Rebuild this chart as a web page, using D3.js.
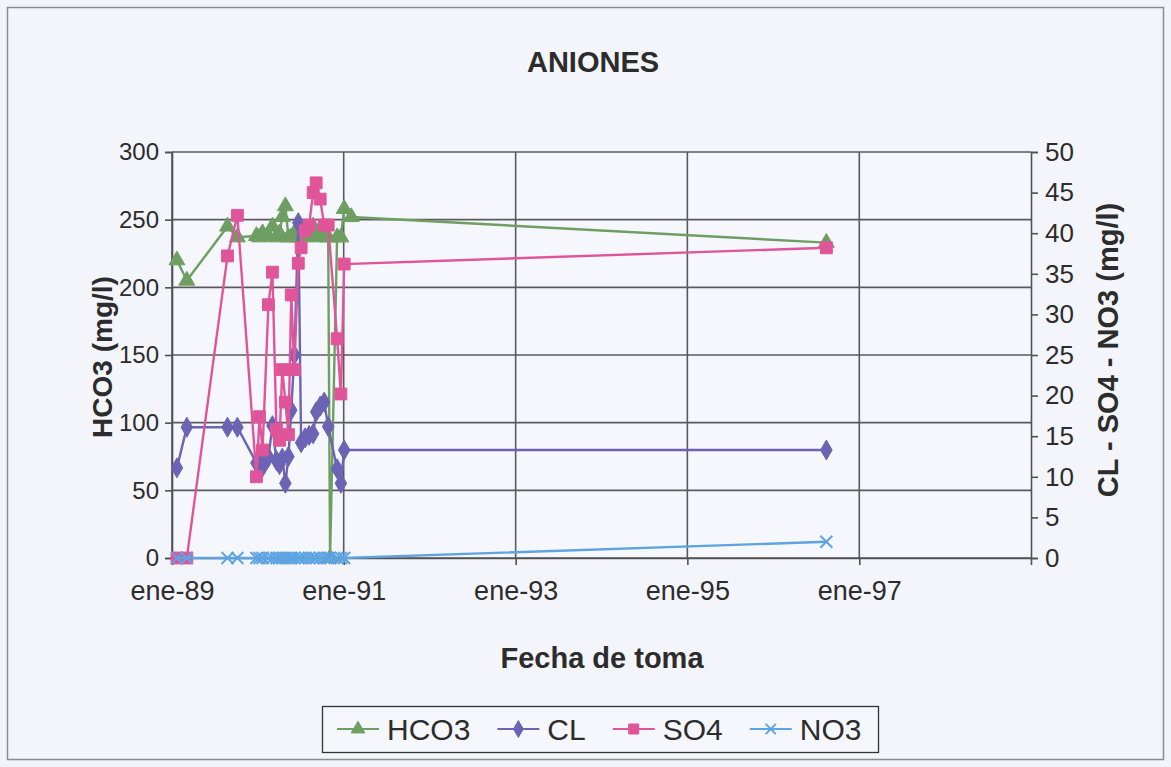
<!DOCTYPE html>
<html>
<head>
<meta charset="utf-8">
<script src="https://cdn.jsdelivr.net/npm/d3@7"></script>
<style>
  html, body { margin: 0; padding: 0; background: #f3f4f9; }
  svg { display: block; font-family: "Liberation Sans", Arial, sans-serif; }
</style>
</head>
<body>
<svg id="chart" width="1171" height="767"></svg>
<script>
// ---------- data ----------
const dates = ["1989-01-22","1989-03-05","1989-08-25","1989-10-06","1989-12-26","1990-01-08","1990-01-21",
  "1990-02-15","1990-03-04","1990-03-21","1990-04-03","1990-04-15","1990-04-28","1990-05-11","1990-05-23",
  "1990-06-05","1990-06-22","1990-07-04","1990-07-21","1990-08-07","1990-08-24","1990-09-06","1990-09-23",
  "1990-10-10","1990-10-27","1990-11-04","1990-12-04","1990-12-20","1991-01-03","1991-02-02","1996-08-14"];
const hco3 = [220,205,245,237,238,237,240,238,245,237,240,252,260,237,237,240,237,240,237,240,245,238,237,240,237,0,237,237,258,252,233];
const cl   = [11.1,16.1,16.1,16.1,11.7,12.5,11.2,12.4,16.3,12,11.5,12.3,9.2,12.5,18.2,25,41.3,14.2,14.8,15.1,15.3,18,18.7,19.2,16.2,null,11,9.2,13.3,null,13.3];
const so4  = [0,0,37.2,42.2,10,17.4,13.3,31.2,35.2,15.8,14.5,23.2,19.2,15.2,32.4,23.2,36.3,38.2,40.3,41,45,46.2,44.2,41,41,null,27,20.2,36.2,null,38.2];
const no3  = [0,0,0,0,0,0,0,0,0,0,0,0,0,0,0,0,0,0,0,0,0,0,0,0,0,0,0,0,0,null,2.0];

const xTickDates = ["1989-01-01","1991-01-01","1993-01-01","1995-01-01","1997-01-01"];
const xTickLabels = ["ene-89","ene-91","ene-93","ene-95","ene-97"];
const leftTicks = [0,50,100,150,200,250,300];
const rightTicks = [0,5,10,15,20,25,30,35,40,45,50];
const seriesNames = ["HCO3","CL","SO4","NO3"];
const seriesColors = ["#6f9e62","#6b64b4","#e0559a","#5ea4e2"];
const seriesAxis = ["left","right","right","right"];

// ---------- layout ----------
const svg = d3.select("#chart");
const W = 1171, H = 767;
const plot = {left: 172, right: 1031, top: 152, bottom: 558};
const parse = d3.timeParse("%Y-%m-%d");
const FONT = "'Liberation Sans', Arial, sans-serif";

const x = d3.scaleTime().domain([parse("1989-01-01"), parse("1999-01-01")]).range([plot.left, plot.right]);
const yL = d3.scaleLinear().domain([0,300]).range([plot.bottom, plot.top]);
const yR = d3.scaleLinear().domain([0,50]).range([plot.bottom, plot.top]);

// background and border
svg.append("rect").attr("x",0).attr("y",0).attr("width",W).attr("height",H).attr("fill","#f3f4f9");
svg.append("rect").attr("x",7.5).attr("y",7.5).attr("width",1156).attr("height",752)
  .attr("fill","#f4f5fa").attr("stroke","#8a8a90").attr("stroke-width",1.5);
svg.append("rect").attr("x",plot.left).attr("y",plot.top).attr("width",plot.right-plot.left).attr("height",plot.bottom-plot.top)
  .attr("fill","#f6f7fc");

// gridlines
const grid = svg.append("g");
grid.selectAll("line.h").data(leftTicks).join("line")
  .attr("x1",plot.left).attr("x2",plot.right)
  .attr("y1",d=>yL(d)).attr("y2",d=>yL(d))
  .attr("stroke","#5a5a5e").attr("stroke-width",1.6);
grid.selectAll("line.v").data(xTickDates).join("line")
  .attr("x1",d=>x(parse(d))).attr("x2",d=>x(parse(d)))
  .attr("y1",plot.top).attr("y2",plot.bottom)
  .attr("stroke","#5a5a5e").attr("stroke-width",1.6);

// axes
const axL = d3.axisLeft(yL).tickValues(leftTicks).tickSize(7).tickPadding(6);
const gL = svg.append("g").attr("transform",`translate(${plot.left},0)`).call(axL);
const axR = d3.axisRight(yR).tickValues(rightTicks).tickSize(7).tickPadding(7);
const gR = svg.append("g").attr("transform",`translate(${plot.right},0)`).call(axR);
const axB = d3.axisBottom(x).tickValues(xTickDates.map(parse)).tickSize(7).tickPadding(12)
  .tickFormat((d,i)=>xTickLabels[i]);
const gB = svg.append("g").attr("transform",`translate(0,${plot.bottom})`).call(axB);
[gL,gR,gB].forEach(g=>{
  g.select(".domain").attr("stroke","#505055").attr("stroke-width",1.6);
  g.selectAll(".tick line").attr("stroke","#505055").attr("stroke-width",1.6);
  g.selectAll(".tick text").attr("fill","#2c2c2c").style("font-family",FONT);
});
gL.selectAll(".tick text").style("font-size","24px");
gR.selectAll(".tick text").style("font-size","26px");
gB.selectAll(".tick text").style("font-size","27px").attr("dy","0.85em");

// titles
function title(txt, x0, y0, rot, size){
  svg.append("text").attr("transform",`translate(${x0},${y0}) rotate(${rot})`)
    .attr("text-anchor","middle").style("font-size",size+"px").style("font-weight","bold")
    .style("font-family",FONT).attr("fill","#2c2c2c").text(txt);
}
title("ANIONES", 593, 72, 0, 29);
title("Fecha de toma", 602, 668, 0, 29);
title("HCO3 (mg/l)", 112, 357, -90, 28);
title("CL - SO4 - NO3 (mg/l)", 1118, 350, -90, 29);

// markers
function drawMarker(g, name, color, px, py, scale){
  const s = scale || 1;
  if(name==="NO3"){
    const r = 6*s;
    g.append("path").attr("d",`M${px-r},${py-r}L${px+r},${py+r}M${px-r},${py+r}L${px+r},${py-r}`)
      .attr("stroke",color).attr("stroke-width",2).attr("fill","none");
  } else {
    let sym;
    if(name==="HCO3") sym = d3.symbol().type(d3.symbolTriangle).size(110*s*s)();
    else if(name==="CL") sym = d3.symbol().type(d3.symbolDiamond).size(115*s*s)();
    else sym = d3.symbol().type(d3.symbolSquare).size(140*s*s)();
    g.append("path").attr("d",sym).attr("transform",`translate(${px},${py})`)
      .attr("fill",color).attr("stroke",color).attr("stroke-width",1);
  }
}

// series
const allValues = [hco3, cl, so4, no3];
const plotG = svg.append("g");
seriesNames.forEach((name,si)=>{
  const yS = seriesAxis[si]==="left" ? yL : yR;
  const pts = dates.map((d,i)=>({d:parse(d), v:allValues[si][i]})).filter(p=>p.v!==null);
  const line = d3.line().x(p=>x(p.d)).y(p=>yS(p.v));
  const g = plotG.append("g");
  g.append("path").attr("d",line(pts)).attr("fill","none").attr("stroke",seriesColors[si]).attr("stroke-width",2.4);
  pts.forEach(p=>drawMarker(g,name,seriesColors[si],x(p.d),yS(p.v)));
});

// legend
const lg = svg.append("g");
const legBox = {x:322, y:706, w:556, h:46};
lg.append("rect").attr("x",legBox.x+0.5).attr("y",legBox.y+0.5).attr("width",legBox.w).attr("height",legBox.h)
  .attr("fill","#f6f7fc").attr("stroke","#333").attr("stroke-width",1.3);
let mx = 358;
const cy = legBox.y + legBox.h/2;
seriesNames.forEach((name,si)=>{
  lg.append("line").attr("x1",mx-21).attr("x2",mx+21).attr("y1",cy).attr("y2",cy)
    .attr("stroke",seriesColors[si]).attr("stroke-width",2);
  drawMarker(lg,name,seriesColors[si],mx,cy,0.85);
  const t = lg.append("text").attr("x",mx+29).attr("y",cy).attr("dy","0.36em")
    .style("font-size","30px").style("font-family",FONT).attr("fill","#2c2c2c").text(name);
  const w = t.node().getComputedTextLength();
  mx = mx + 29 + w + 48;
});
</script>
</body>
</html>
